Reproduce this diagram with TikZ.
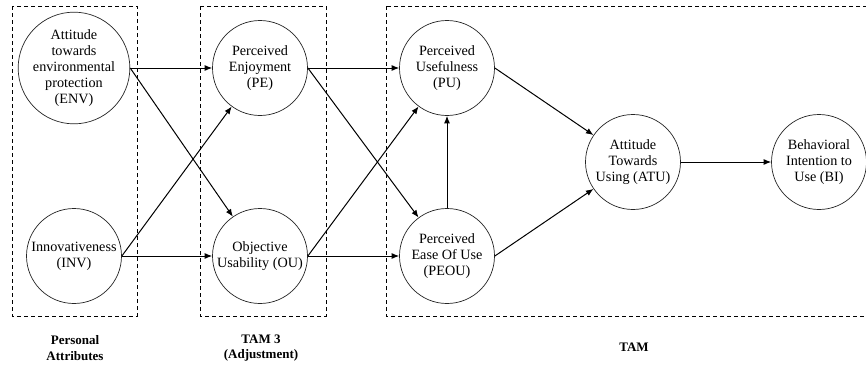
\documentclass[tikz,border=0pt]{standalone}
\usepackage{fontspec}
\setmainfont{Liberation Serif}
\usetikzlibrary{arrows.meta}

\tikzset{
  construct/.style={circle, draw=black!85, line width=0.7pt, minimum size=95pt,
    inner sep=0pt, align=center, font=\fontsize{14.2}{15.8}\selectfont},
  groupbox/.style={draw=black, line width=1pt, dash pattern=on 4pt off 3pt},
  grouplabel/.style={align=center, font=\fontsize{13}{15.4}\selectfont\bfseries},
  link/.style={line width=1pt, -{Latex[length=7.5pt,width=6pt]}}
}

\begin{document}
\begin{tikzpicture}[x=1pt, y=-1pt]
  \clip (0,0) rectangle (866,367);
  \fill[white] (0,0) rectangle (866,367);

  % group frames
  \draw[groupbox] (12,6) rectangle (137,316);
  \draw[groupbox] (200,6) rectangle (326,316);
  \draw[groupbox] (386,6) rectangle (880,316);

  % constructs
  \node[construct] (ENV)  at (74,68)   {Attitude\\towards\\environmental\\protection\\(ENV)};
  \node[construct] (INV)  at (74,256)  {Innovativeness\\(INV)};
  \node[construct] (PE)   at (260,68)  {Perceived\\Enjoyment\\(PE)};
  \node[construct] (OU)   at (260,256) {Objective\\Usability (OU)};
  \node[construct] (PU)   at (447,68)  {Perceived\\Usefulness\\(PU)};
  \node[construct] (PEOU) at (447,256) {Perceived\\Ease Of Use\\(PEOU)};
  \node[construct] (ATU)  at (633,162) {Attitude\\Towards\\Using (ATU)};
  \node[construct] (BI)   at (819,162) {Behavioral\\Intention to\\Use (BI)};

  % group captions
  \node[grouplabel] (lblPA)   at (75,348)  {Personal\\Attributes};
  \node[grouplabel] (lblTAM3) at (261,348) {TAM 3\\(Adjustment)};
  \node[grouplabel] (lblTAM)  at (634,347) {TAM};

  % paths
  \draw[link] (ENV.east) -- (PE.west);
  \draw[link] (ENV.east) -- (OU);
  \draw[link] (INV.east) -- (PE);
  \draw[link] (INV.east) -- (OU.west);
  \draw[link] (PE.east) -- (PU.west);
  \draw[link] (PE.east) -- (PEOU);
  \draw[link] (OU.east) -- (PU);
  \draw[link] (OU.east) -- (PEOU.west);
  \draw[link] (PEOU.north) -- (PU.south);
  \draw[link] (PU.east) -- (ATU);
  \draw[link] (PEOU.east) -- (ATU);
  \draw[link] (ATU.east) -- (BI.west);
\end{tikzpicture}
\end{document}
